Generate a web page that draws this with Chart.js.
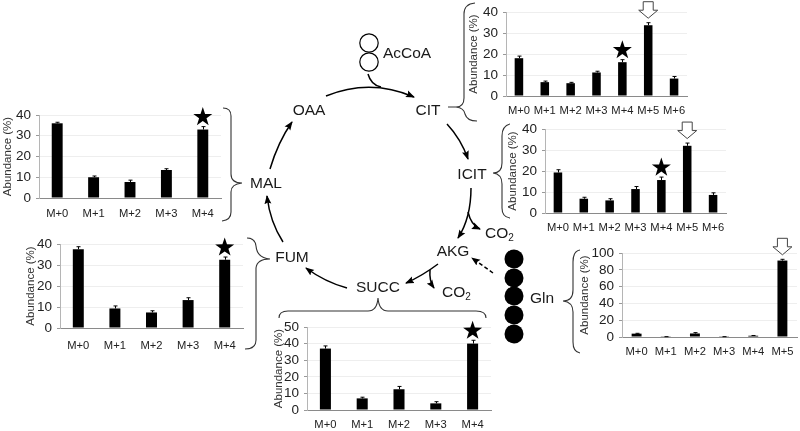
<!DOCTYPE html>
<html><head><meta charset="utf-8">
<script src="https://cdn.jsdelivr.net/npm/chart.js@4"></script>
<style>
html,body{margin:0;padding:0;background:#fff;overflow:hidden;width:800px;height:431px}
#stage{position:relative;width:800px;height:431px;overflow:hidden;filter:blur(0.35px)}
canvas{position:absolute}
svg{position:absolute;left:0;top:0}
svg text{font-family:"Liberation Sans",Arial,sans-serif;font-size:15.5px;fill:#1a1a1a}
</style></head><body>
<div id="stage">
<svg width="800" height="431" viewBox="0 0 800 431" fill="none">
<defs>
<marker id="ah" markerUnits="userSpaceOnUse" markerWidth="9" markerHeight="8" refX="8" refY="4" orient="auto"><path d="M0 0.5L9 4L0 7.5L1.5 4Z" fill="#000"/></marker>
</defs>
<g stroke="#000" stroke-width="1.5">
<path d="M326 96Q370 78 414 97" marker-end="url(#ah)"/>
<path d="M368 74Q371 85 381 87"/>
<path d="M447 124Q461 139 468 159" marker-end="url(#ah)"/>
<path d="M471 188Q471 218 458 238" marker-end="url(#ah)"/>
<path d="M468 212Q471 225 480 229" marker-end="url(#ah)"/>
<path d="M438 264Q422 276 406 283" marker-end="url(#ah)"/>
<path d="M430 270Q429 281 434 288" marker-end="url(#ah)"/>
<path d="M347 288Q325 282 306 268" marker-end="url(#ah)"/>
<path d="M283 242Q270 222 267 196" marker-end="url(#ah)"/>
<path d="M270 169Q278 142 292 122" marker-end="url(#ah)"/>
<path d="M493 273L472 258" stroke-dasharray="4 2.5" marker-end="url(#ah)"/>
</g>
<g stroke="#333" stroke-width="1.1">
<path d="M475 3Q464 4 464 14L464 98Q464 107 456 107L448 107M456 107Q464 108 465 114Q467 121 477 121"/>
<path d="M510 124Q502 126 502 136L502 163Q502 173 493 173Q502 174 502 184L502 208Q502 217 510 218"/>
<path d="M223 108Q231 108 231 116L231 174Q231 183 242 183Q231 184 231 192L231 212Q231 220 222 221"/>
<path d="M247 238Q255 238 256 246Q257 258 270 259Q257 259 256 268L256 340Q256 349 245 349"/>
<path d="M279 318Q279 311 288 311L368 311Q377 311 378 298Q379 311 388 311L476 311Q486 311 486 318"/>
<path d="M580 250Q573 251 573 262L573 290Q573 301 563 301Q573 302 573 312L573 342Q573 352 580 353"/>
</g>
<g stroke="#000" stroke-width="1.2"><circle cx="369" cy="43" r="9.2"/><circle cx="369" cy="62" r="9.2"/></g>
<g fill="#000"><circle cx="514" cy="259" r="9.5"/><circle cx="514" cy="278" r="9.5"/><circle cx="514" cy="296" r="9.5"/><circle cx="514" cy="315" r="9.5"/><circle cx="514" cy="334" r="9.5"/></g>
<g text-anchor="middle">
<text x="407" y="58">AcCoA</text>
<text x="309" y="115">OAA</text>
<text x="428" y="115">CIT</text>
<text x="472" y="179">ICIT</text>
<text x="453" y="256">AKG</text>
<text x="378" y="292">SUCC</text>
<text x="292" y="262">FUM</text>
<text x="266" y="188">MAL</text>
<text x="542" y="303">Gln</text>
</g>
<text x="485" y="238">CO<tspan font-size="10" dy="3">2</tspan></text>
<text x="442" y="297">CO<tspan font-size="10" dy="3">2</tspan></text>
</svg>
<canvas id="cit"></canvas><canvas id="icit"></canvas><canvas id="gln"></canvas>
<canvas id="mal"></canvas><canvas id="fum"></canvas><canvas id="succ"></canvas>
</div>
<script>
const labels5 = ["M+0","M+1","M+2","M+3","M+4"];
const labels6 = ["M+0","M+1","M+2","M+3","M+4","M+5"];
const labels7 = ["M+0","M+1","M+2","M+3","M+4","M+5","M+6"];
const citValues  = [18, 6.6, 6.1, 11.2, 16.1, 33.7, 8.3];
const citErrors  = [1, 0.5, 0.4, 0.6, 1.2, 1.2, 1];
const icitValues = [19.3, 6.8, 6, 11.4, 15.7, 32, 8.6];
const icitErrors = [1.3, 0.7, 0.8, 1.2, 1.4, 1.3, 1];
const glnValues  = [4, 0.3, 4.2, 0.3, 1.5, 91];
const glnErrors  = [0.4, 0.1, 1, 0.1, 0.3, 1.5];
const malValues  = [36, 10, 7.7, 13.5, 33];
const malErrors  = [0.5, 0.6, 0.9, 0.6, 1.4];
const fumValues  = [37.5, 9.3, 7.4, 13.3, 32.5];
const fumErrors  = [1.2, 1.2, 0.8, 1.1, 1.3];
const succValues = [37, 7, 12.5, 4, 40];
const succErrors = [1.6, 0.7, 1.7, 1, 2];
const yTitle = "Abundance (%)";
const FONT = '"Liberation Sans",Arial,sans-serif';

const marks = {
  id:'marks',
  afterDatasetsDraw(c){
    const o=c.options.plugins.marks, x=c.scales.x, y=c.scales.y, g=c.ctx;
    g.save();
    g.strokeStyle='#000'; g.lineWidth=1;
    o.errors.forEach((e,i)=>{
      const px=Math.round(x.getPixelForValue(i))+.5, top=y.getPixelForValue(o.values[i]+e), bot=y.getPixelForValue(o.values[i]);
      g.beginPath(); g.moveTo(px,bot); g.lineTo(px,top); g.moveTo(px-2,top); g.lineTo(px+2,top); g.stroke();
    });
    if(o.star!=null){
      const cx=x.getPixelForValue(o.star), cy=y.getPixelForValue(o.values[o.star]+o.errors[o.star])-9.5, R=10, r=3.9;
      g.beginPath();
      for(let k=0;k<10;k++){const a=-Math.PI/2+k*Math.PI/5, q=k%2?r:R; g.lineTo(cx+q*Math.cos(a),cy+q*Math.sin(a));}
      g.closePath(); g.fillStyle='#000'; g.fill();
    }
    if(o.arrow!=null){
      const cx=x.getPixelForValue(o.arrow), tip=y.getPixelForValue(o.values[o.arrow]+o.errors[o.arrow])-4.5;
      g.beginPath();
      g.moveTo(cx,tip); g.lineTo(cx+9.5,tip-8); g.lineTo(cx+5,tip-8); g.lineTo(cx+5,tip-16.5); g.lineTo(cx-5,tip-16.5); g.lineTo(cx-5,tip-8); g.lineTo(cx-9.5,tip-8); g.closePath();
      g.fillStyle='#fff'; g.fill(); g.strokeStyle='#444'; g.lineWidth=1; g.stroke();
    }
    g.restore();
  }
};

function panel(id,labels,values,errors,box,scale,mark){
  const top=16, right=20, bottom=24;
  const left=box.titleOffset+7;
  const el=document.getElementById(id);
  const W=left+box.w+right, H=top+box.h+bottom;
  el.width=W; el.height=H;
  el.style.left=(box.x-left)+'px'; el.style.top=(box.y-top)+'px';
  el.style.width=W+'px'; el.style.height=H+'px';
  new Chart(el,{
    type:'bar',
    data:{labels,datasets:[{data:values,backgroundColor:'#000',barPercentage:box.bar,categoryPercentage:1}]},
    plugins:[marks],
    options:{
      responsive:false,animation:false,devicePixelRatio:1,
      layout:{padding:{top,right,bottom:0,left:0}},
      plugins:{legend:{display:false},tooltip:{enabled:false},
        marks:{values,errors,star:mark.star,arrow:mark.arrow}},
      scales:{
        x:{grid:{display:false,drawTicks:false,tickLength:0},border:{color:'#8a8a8a',width:1},
           afterFit(s){s.height=bottom;},
           ticks:{color:'#222',font:{family:FONT,size:11.2},maxRotation:0,minRotation:0,autoSkip:false,padding:box.xpad||8}},
        y:{min:0,max:scale.max,
           afterFit(s){s.width=left;},
           grid:{color:'#eeeeee',tickColor:'#999',tickLength:3,lineWidth:1},
           border:{color:'#b5b5b5',width:1},
           title:{display:true,text:yTitle,color:'#333',font:{family:FONT,size:11.5},padding:0},
           ticks:{stepSize:scale.step,autoSkip:false,color:'#222',font:{family:FONT,size:13.5},padding:5}}
      }
    }
  });
}
panel('cit',labels7,citValues,citErrors,{x:506,y:12,w:181,h:84,titleOffset:32,bar:.33},{max:40,step:10},{star:4,arrow:5});
panel('icit',labels7,icitValues,icitErrors,{x:545,y:129,w:181,h:84,titleOffset:32,bar:.33},{max:40,step:10},{star:4,arrow:5});
panel('gln',labels6,glnValues,glnErrors,{x:622,y:253,w:175,h:84,titleOffset:37,bar:.34},{max:100,step:20},{arrow:5});
panel('mal',labels5,malValues,malErrors,{x:39,y:115,w:182,h:83,titleOffset:31,bar:.3,xpad:9},{max:40,step:10},{star:4});
panel('fum',labels5,fumValues,fumErrors,{x:60,y:244,w:183,h:84,titleOffset:29,bar:.3,xpad:11},{max:40,step:10},{star:4});
panel('succ',labels5,succValues,succErrors,{x:307,y:327,w:184,h:83,titleOffset:28,bar:.3},{max:50,step:10},{star:4});
</script>
</body></html>
